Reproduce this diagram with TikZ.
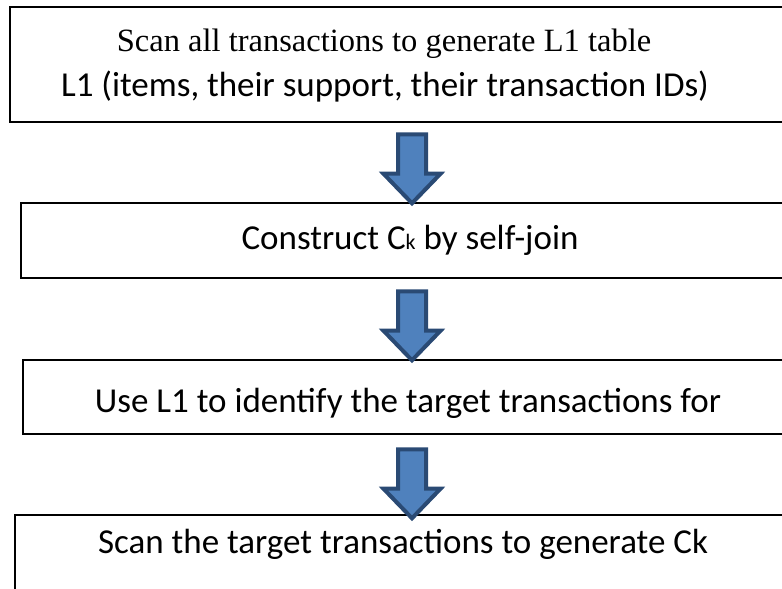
\documentclass[tikz,border=0pt]{standalone}
\usepackage{fontspec}
\setmainfont{Carlito}
\newfontfamily\timesfont{Liberation Serif}
\usetikzlibrary{shapes.arrows}
\definecolor{arrowfill}{HTML}{4F81BD}
\definecolor{arrowline}{HTML}{2A4A74}
\begin{document}
\begin{tikzpicture}[x=1pt,y=1pt,
  box/.style={draw=black, line width=2.2pt, fill=white, inner sep=0pt, anchor=center},
  txt/.style={font=\fontsize{35}{40}\selectfont, inner sep=0pt, align=center},
  blockarrow/.style={single arrow, shape border rotate=270, draw=arrowline, fill=arrowfill,
    line width=4pt, inner sep=12pt, minimum width=53pt, minimum height=69pt,
    single arrow head extend=14.5pt, single arrow tip angle=88}]
\useasboundingbox (0,0) rectangle (782,-589);
\clip (0,0) rectangle (782,-589);
\node[box, minimum width=790pt, minimum height=115pt] (b1) at (405,-64.5) {};
\node[box, minimum width=779pt, minimum height=75pt] (b2) at (410.5,-240.5) {};
\node[box, minimum width=777pt, minimum height=74pt] (b3) at (411.5,-397) {};
\node[box, minimum width=785pt, minimum height=105pt] (b4) at (407.5,-567.5) {};
\node[txt, font=\timesfont\fontsize{32.5}{38}\selectfont] (t1a) at (384,-44) {Scan all transactions to generate L1 table};
\node[txt] (t1b) at (385,-87) {L1 (items, their support, their transaction IDs)};
\node[txt] (t2) at (410,-240) {Construct C{\fontsize{22}{22}\selectfont k} by self-join};
\node[txt] (t3) at (408,-403) {Use L1 to identify the target transactions for};
\node[txt] (t4) at (403,-544) {Scan the target transactions to generate Ck};
\node[blockarrow] (a1) at (412,-161.5) {};
\node[blockarrow] (a2) at (412,-318.5) {};
\node[blockarrow] (a3) at (412,-476.5) {};
\end{tikzpicture}
\end{document}
